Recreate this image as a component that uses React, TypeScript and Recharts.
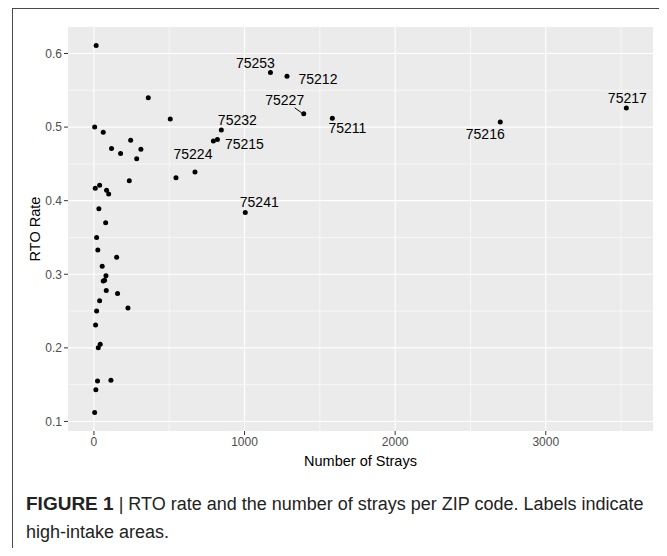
import React from 'react';
import { CartesianGrid, Scatter, ScatterChart, XAxis, YAxis } from 'recharts';

// values (number of strays vs RTO rate per ZIP code)
const strays = [
    15, 361, 507, 5, 62, 846, 793, 820, 117, 244, 312, 177, 284, 545, 671, 235,
    9, 38, 84, 98, 1005, 33, 78, 18, 26, 151, 55, 80, 62, 71, 82, 157, 38, 18,
    226, 11, 42, 29, 24, 113, 13, 5, 1172, 1282, 1393, 1583, 2698, 3535,
];
const rtoRate = [
    0.611, 0.540, 0.511, 0.500, 0.493, 0.496, 0.481, 0.483, 0.471, 0.482, 0.470, 0.464, 0.457, 0.431, 0.439, 0.427,
    0.417, 0.421, 0.414, 0.409, 0.384, 0.389, 0.370, 0.350, 0.333, 0.323, 0.311, 0.298, 0.291, 0.292, 0.278, 0.274, 0.264, 0.250,
    0.254, 0.231, 0.205, 0.200, 0.155, 0.156, 0.143, 0.112, 0.574, 0.569, 0.518, 0.512, 0.507, 0.526,
];
const zipLabels = [
    '', '', '', '', '', '75232', '', '75215', '', '', '', '', '', '', '75224', '',
    '', '', '', '', '75241', '', '', '', '', '', '', '', '', '', '', '', '', '',
    '', '', '', '', '', '', '', '', '75253', '75212', '75227', '75211', '75216', '75217',
];

const xTicks = [0, 1000, 2000, 3000];
const xMinor = [500, 1500, 2500, 3500];
const yTicks = [0.1, 0.2, 0.3, 0.4, 0.5, 0.6];
const yMinor = [0.15, 0.25, 0.35, 0.45, 0.55];

// where the repelled labels sit relative to their point (px)
const labelNudge: Record<string, [number, number]> = {
    '75253': [-15, -10],
    '75212': [31, 3],
    '75227': [-19, -14],
    '75211': [15, 10],
    '75232': [16, -10],
    '75215': [27, 4],
    '75224': [-2, -18],
    '75241': [14, -10],
    '75216': [-15, 12],
    '75217': [1, -10],
};

const data = strays.map((x, i) => ({ x, y: rtoRate[i], zip: zipLabels[i] }));

const FONT = '"Liberation Sans", Arial, sans-serif';

const Dot = (props: any) => {
    const { cx, cy, payload } = props;
    const nudge = labelNudge[payload.zip];
    return (
        <g>
            <circle cx={cx} cy={cy} r={2.5} fill="#000" />
            {payload.zip === '75227' && (
                <line x1={cx - 9} y1={cy - 6} x2={cx - 2} y2={cy - 1} stroke="#000" strokeWidth={1} />
            )}
            {nudge && (
                <text x={cx + nudge[0]} y={cy + nudge[1]} textAnchor="middle" dominantBaseline="central"
                    fontSize={14} fontFamily={FONT} fill="#000">
                    {payload.zip}
                </text>
            )}
        </g>
    );
};

const tickStyle = { fontSize: 12, fill: '#4D4D4D', fontFamily: FONT };

export default function App() {
    return (
        <div style={{ position: 'relative', margin: -8, width: 667, height: 556, overflow: 'hidden', background: '#fff' }}>
            <div style={{
                position: 'absolute', left: 12, top: 8, width: 649, height: 600,
                border: '1.5px solid #4a4a4a', boxSizing: 'border-box',
            }} />
            <div style={{ position: 'absolute', left: 0, top: 0 }}>
                <ScatterChart width={667} height={475} margin={{ top: 27, right: 14, bottom: 0, left: 20 }}>
                    <CartesianGrid fill="#EBEBEB" stroke="#fff" strokeWidth={0.6}
                        verticalValues={xMinor} horizontalValues={yMinor} />
                    <CartesianGrid stroke="#fff" strokeWidth={1.1}
                        verticalValues={xTicks} horizontalValues={yTicks} />
                    <XAxis type="number" dataKey="x" domain={[-172, 3712]} ticks={xTicks} allowDataOverflow
                        axisLine={false} tickLine={{ stroke: '#333' }} tickSize={4} tick={tickStyle} height={44}
                        label={(p: any) => {
                            const vb = p.viewBox;
                            return (
                                <text x={vb.x + vb.width / 2} y={vb.y + 30} textAnchor="middle" dominantBaseline="central"
                                    fontSize={14.5} fontFamily={FONT} fill="#000">Number of Strays</text>
                            );
                        }} />
                    <YAxis type="number" dataKey="y" domain={[0.087, 0.636]} ticks={yTicks} allowDataOverflow
                        axisLine={false} tickLine={{ stroke: '#333' }} tickSize={4} tick={tickStyle} width={48}
                        tickFormatter={(v: number) => v.toFixed(1)}
                        label={(p: any) => {
                            const vb = p.viewBox;
                            const cx = vb.x + 15;
                            const cy = vb.y + vb.height / 2;
                            return (
                                <text x={cx} y={cy} textAnchor="middle" dominantBaseline="central"
                                    transform={`rotate(-90 ${cx} ${cy})`}
                                    fontSize={14.5} fontFamily={FONT} fill="#000">RTO Rate</text>
                            );
                        }} />
                    <Scatter data={data} shape={<Dot />} isAnimationActive={false} />
                </ScatterChart>
            </div>
            <div style={{
                position: 'absolute', left: 26, top: 490, width: 636, fontFamily: FONT,
                fontSize: 18, lineHeight: '28px', color: '#222', whiteSpace: 'nowrap',
            }}>
                <b style={{ fontSize: 19 }}>FIGURE 1</b> | RTO rate and the number of strays per ZIP code. Labels indicate
                <br />
                high-intake areas.
            </div>
        </div>
    );
}
